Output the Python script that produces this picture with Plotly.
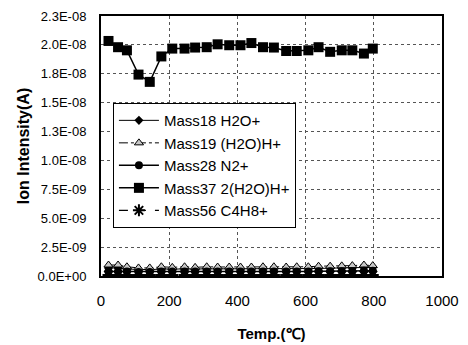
import plotly.graph_objects as go

temp = [22, 50, 76, 110, 143, 177, 209, 245, 276, 310, 342, 376, 409, 441, 475,
        507, 543, 574, 608, 638, 672, 706, 737, 771, 797]

mass18 = [0.70e-9, 0.70e-9, 0.60e-9, 0.55e-9, 0.55e-9, 0.60e-9, 0.60e-9, 0.60e-9, 0.60e-9, 0.62e-9,
          0.62e-9, 0.62e-9, 0.62e-9, 0.62e-9, 0.62e-9, 0.62e-9, 0.62e-9, 0.62e-9, 0.62e-9, 0.65e-9,
          0.68e-9, 0.70e-9, 0.70e-9, 0.75e-9, 0.75e-9]
mass19 = [0.95e-9, 0.95e-9, 0.80e-9, 0.70e-9, 0.70e-9, 0.80e-9, 0.75e-9, 0.80e-9, 0.75e-9, 0.80e-9,
          0.78e-9, 0.78e-9, 0.78e-9, 0.78e-9, 0.80e-9, 0.80e-9, 0.78e-9, 0.80e-9, 0.80e-9, 0.85e-9,
          0.85e-9, 0.88e-9, 0.90e-9, 0.95e-9, 0.90e-9]
mass28 = [0.40e-9, 0.40e-9, 0.38e-9, 0.35e-9, 0.35e-9, 0.38e-9, 0.38e-9, 0.38e-9, 0.38e-9, 0.40e-9,
          0.40e-9, 0.40e-9, 0.40e-9, 0.40e-9, 0.40e-9, 0.40e-9, 0.40e-9, 0.40e-9, 0.40e-9, 0.42e-9,
          0.42e-9, 0.42e-9, 0.42e-9, 0.45e-9, 0.45e-9]
mass37 = [2.034e-8, 1.98e-8, 1.953e-8, 1.743e-8, 1.68e-8, 1.90e-8, 1.968e-8, 1.968e-8, 1.977e-8, 1.98e-8,
          2.005e-8, 1.997e-8, 1.997e-8, 2.016e-8, 1.98e-8, 1.977e-8, 1.947e-8, 1.947e-8, 1.953e-8, 1.98e-8,
          1.94e-8, 1.953e-8, 1.953e-8, 1.925e-8, 1.968e-8]
mass56 = [0.08e-9, 0.08e-9, 0.08e-9, 0.08e-9, 0.08e-9, 0.08e-9, 0.08e-9, 0.08e-9, 0.08e-9, 0.08e-9,
          0.08e-9, 0.08e-9, 0.08e-9, 0.08e-9, 0.08e-9, 0.08e-9, 0.08e-9, 0.08e-9, 0.08e-9, 0.08e-9,
          0.08e-9, 0.08e-9, 0.08e-9, 0.08e-9, 0.08e-9]

y_tickvals = [0, 2.5e-9, 5.0e-9, 7.5e-9, 1.0e-8, 1.25e-8, 1.5e-8, 1.75e-8, 2.0e-8, 2.25e-8]
y_ticktext = ["0.0E+00", "2.5E-09", "5.0E-09", "7.5E-09", "1.0E-08", "1.3E-08",
              "1.5E-08", "1.8E-08", "2.0E-08", "2.3E-08"]
x_tickvals = [0, 200, 400, 600, 800, 1000]
x_ticktext = ["0", "200", "400", "600", "800", "1000"]

FONT = "Liberation Sans, Arial, sans-serif"

fig = go.Figure()
fig.add_trace(go.Scatter(x=temp, y=mass18, name="Mass18 H2O+", mode="lines+markers",
                         line=dict(color="black", width=1),
                         marker=dict(symbol="diamond", size=7, color="black")))
fig.add_trace(go.Scatter(x=temp, y=mass19, name="Mass19 (H2O)H+", mode="lines+markers",
                         line=dict(color="black", width=1, dash="dashdot"),
                         marker=dict(symbol="triangle-up", size=8, color="#c8c8c8",
                                     line=dict(color="black", width=1))))
fig.add_trace(go.Scatter(x=temp, y=mass28, name="Mass28 N2+", mode="lines+markers",
                         line=dict(color="black", width=1.5),
                         marker=dict(symbol="circle", size=8, color="black")))
fig.add_trace(go.Scatter(x=temp, y=mass37, name="Mass37 2(H2O)H+", mode="lines+markers",
                         line=dict(color="black", width=1.5),
                         marker=dict(symbol="square", size=10, color="black")))
fig.add_trace(go.Scatter(x=temp, y=mass56, name="Mass56 C4H8+", mode="lines+markers",
                         line=dict(color="black", width=1.2, dash="dash"),
                         marker=dict(symbol="asterisk-open", size=10, color="black",
                                     line=dict(color="black", width=2))))

fig.update_layout(
    width=468, height=345,
    margin=dict(l=101, r=26, t=16, b=69),
    paper_bgcolor="white", plot_bgcolor="white",
    font=dict(family=FONT, color="black"),
    showlegend=True,
    legend=dict(x=0.035, y=0.665, xanchor="left", yanchor="top",
                bgcolor="white", bordercolor="black", borderwidth=1,
                font=dict(size=15, family=FONT, color="black"),
                itemwidth=40, tracegroupgap=0),
    xaxis=dict(range=[0, 1000], tickvals=x_tickvals, ticktext=x_ticktext,
               tickfont=dict(size=15, family=FONT), ticks="", ticklabelstandoff=10,
               showline=True, linecolor="black", linewidth=2, mirror=True,
               showgrid=True, gridcolor="#555555", gridwidth=1, griddash="dot",
               zeroline=False, automargin=False,
               title=dict(text="<b>Temp.(℃)</b>", font=dict(size=15, family=FONT),
                          standoff=20)),
    yaxis=dict(range=[0, 2.25e-8], tickvals=y_tickvals, ticktext=y_ticktext,
               tickfont=dict(size=13, family=FONT), ticks="", ticklabelstandoff=10,
               showline=True, linecolor="black", linewidth=2, mirror=True,
               showgrid=True, gridcolor="#555555", gridwidth=1, griddash="dot",
               zeroline=False, automargin=False,
               title=dict(text="<b>Ion Intensity(A)</b>", font=dict(size=16, family=FONT),
                          standoff=4)),
)

fig.write_html("out.html")
